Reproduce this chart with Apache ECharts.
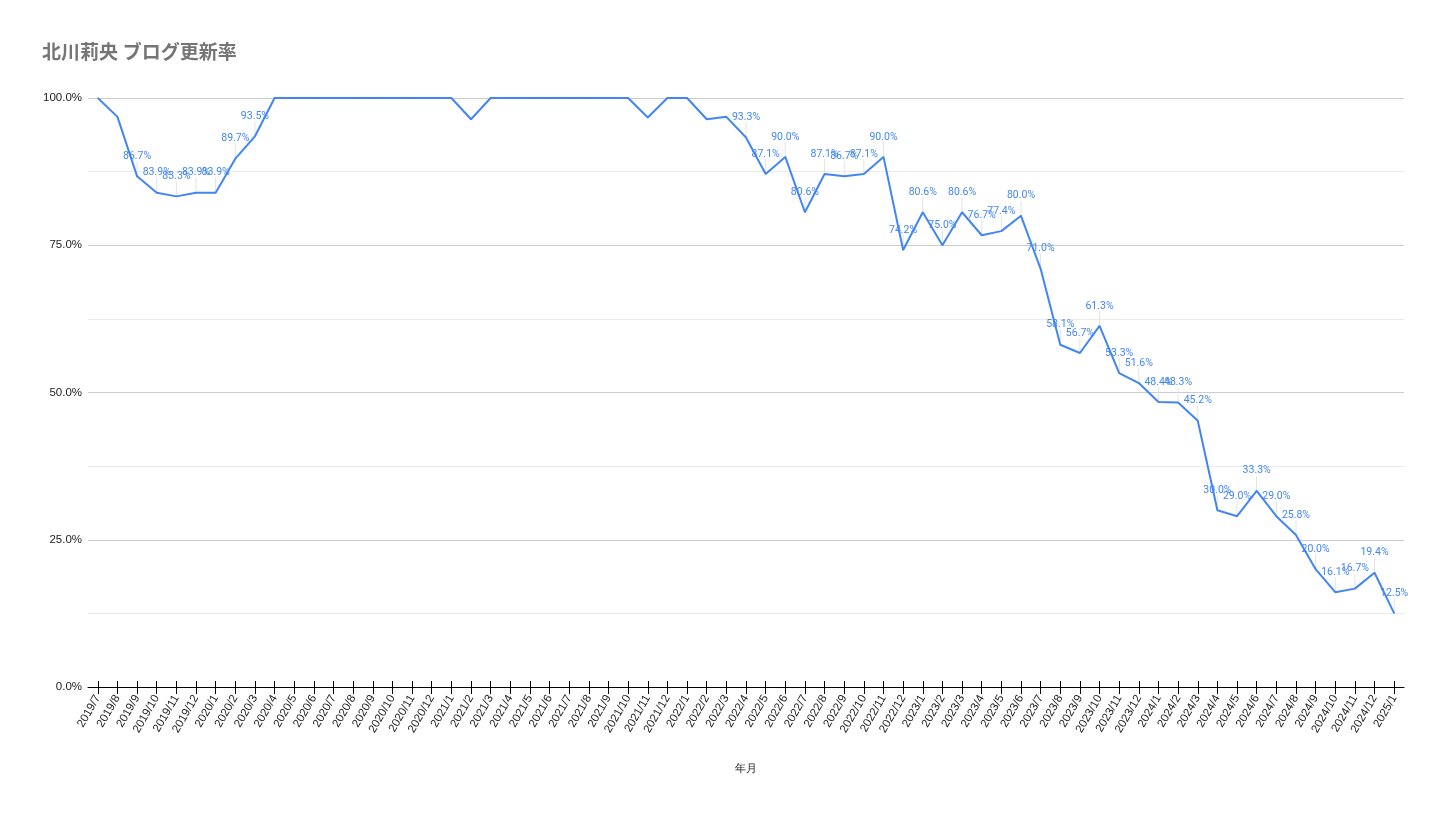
<!DOCTYPE html>
<html>
<head>
<meta charset="utf-8">
<script src="https://cdn.jsdelivr.net/npm/echarts@6/dist/echarts.min.js"></script>
<style>html,body{margin:0;padding:0;background:#fff}#c{width:1444px;height:815px}</style>
</head>
<body>
<div id="c"></div>
<script>
const titleText = '北川莉央 ブログ更新率';
const xName = '年月';
const months = ['2019/7','2019/8','2019/9','2019/10','2019/11','2019/12',
'2020/1','2020/2','2020/3','2020/4','2020/5','2020/6','2020/7','2020/8','2020/9','2020/10','2020/11','2020/12',
'2021/1','2021/2','2021/3','2021/4','2021/5','2021/6','2021/7','2021/8','2021/9','2021/10','2021/11','2021/12',
'2022/1','2022/2','2022/3','2022/4','2022/5','2022/6','2022/7','2022/8','2022/9','2022/10','2022/11','2022/12',
'2023/1','2023/2','2023/3','2023/4','2023/5','2023/6','2023/7','2023/8','2023/9','2023/10','2023/11','2023/12',
'2024/1','2024/2','2024/3','2024/4','2024/5','2024/6','2024/7','2024/8','2024/9','2024/10','2024/11','2024/12',
'2025/1'];
const rates = [100,96.8,86.7,83.9,83.3,83.9,
83.9,89.7,93.5,100,100,100,100,100,100,100,100,100,
100,96.4,100,100,100,100,100,100,100,100,96.7,100,
100,96.4,96.8,93.3,87.1,90.0,80.6,87.1,86.7,87.1,90.0,74.2,
80.6,75.0,80.6,76.7,77.4,80.0,71.0,58.1,56.7,61.3,53.3,51.6,
48.4,48.3,45.2,30.0,29.0,33.3,29.0,25.8,20.0,16.1,16.7,19.4,
12.5];
// points whose value label is drawn in the reference
const labelled = [2,3,4,5,6,7,8,33,34,35,36,37,38,39,40,41,42,43,44,45,46,47,48,49,50,51,52,53,54,55,56,57,58,59,60,61,62,63,64,65,66];

const chart = echarts.init(document.getElementById('c'));
const lineData = rates.map((v, i) => ({
  value: v,
  label: { show: labelled.indexOf(i) >= 0 }
}));
const leaderData = labelled.map(i => [i, rates[i]]);
const axisFont = 'Arial, "Liberation Sans", sans-serif';

chart.setOption({
  animation: false,
  title: {
    text: titleText, left: 37, top: 40,
    textStyle: { fontFamily: 'Roboto, "Noto Sans CJK JP", sans-serif', fontSize: 19, fontWeight: 'bold', color: '#757575' }
  },
  grid: { left: 88, right: 40, top: 98, bottom: 128, containLabel: false },
  xAxis: [{
    type: 'category', data: months, boundaryGap: true,
    name: xName, nameLocation: 'middle', nameGap: 76,
    nameTextStyle: { fontFamily: axisFont, fontSize: 11, color: '#222' },
    axisLine: { show: true, lineStyle: { color: '#000', width: 1 } },
    axisTick: { show: true, interval: 0, alignWithLabel: true, length: 7, lineStyle: { color: '#000' } },
    axisLabel: { interval: 0, rotate: 60, fontSize: 11.5, color: '#222', fontFamily: axisFont, margin: 9 }
  }, {
    type: 'category', data: months, boundaryGap: true, position: 'bottom', offset: 0,
    axisLine: { show: false },
    axisTick: { show: true, interval: 0, inside: true, alignWithLabel: true, length: 6, lineStyle: { color: '#000' } },
    axisLabel: { show: false, interval: 0 }
  }],
  yAxis: {
    type: 'value', min: 0, max: 100, interval: 25,
    axisLine: { show: false }, axisTick: { show: false },
    axisLabel: { formatter: v => v.toFixed(1) + '%', fontSize: 11.5, color: '#222', fontFamily: axisFont, margin: 6 },
    splitLine: { lineStyle: { color: '#cccccc', width: 1 } },
    minorTick: { show: false, splitNumber: 2 },
    minorSplitLine: { show: true, lineStyle: { color: '#ebebeb', width: 1 } }
  },
  series: [{
    type: 'custom', xAxisIndex: 0, z: 1,
    data: leaderData,
    renderItem: function (params, api) {
      const p = api.coord([api.value(0), api.value(1)]);
      return { type: 'line', shape: { x1: p[0], y1: p[1], x2: p[0], y2: p[1] - 15 }, style: { stroke: '#e3e3e3', lineWidth: 1 } };
    }
  }, {
    type: 'line', xAxisIndex: 0, z: 3,
    data: lineData,
    symbol: 'circle', symbolSize: 1, showSymbol: true,
    lineStyle: { color: '#4285f4', width: 2 },
    itemStyle: { color: '#4285f4' },
    label: { position: 'top', distance: 14, fontSize: 10.5, color: '#4285f4', fontFamily: 'Roboto, Arial, sans-serif', formatter: p => p.value.toFixed(1) + '%' },
    emphasis: { disabled: true }
  }]
});
</script>
</body>
</html>
